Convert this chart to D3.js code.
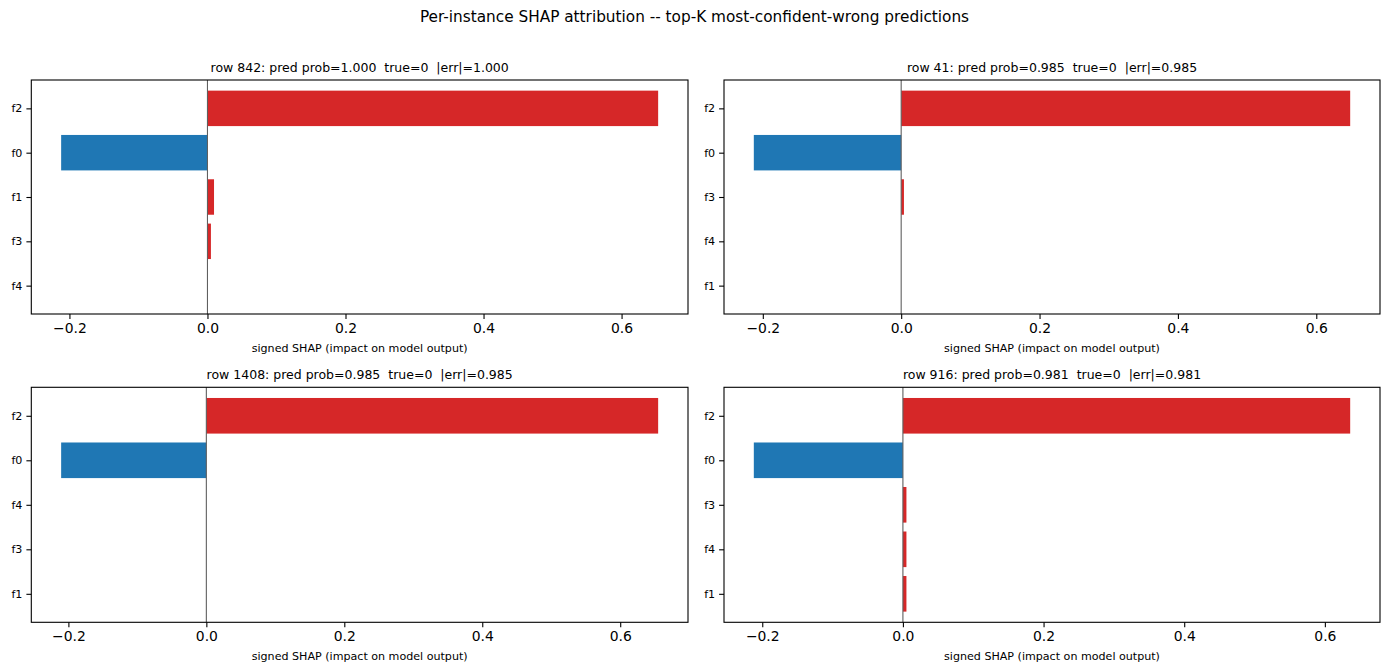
<!DOCTYPE html>
<html>
<head>
<meta charset="utf-8">
<script src="https://cdn.jsdelivr.net/npm/d3@7/dist/d3.min.js"></script>
<style>
  html, body { margin: 0; padding: 0; background: #fff; }
  svg { display: block; }
  text { font-family: "DejaVu Sans", sans-serif; white-space: pre; }
</style>
</head>
<body>
<svg id="chart" width="1389" height="671"></svg>
<script>
// ---- data ----
const suptitle = "Per-instance SHAP attribution -- top-K most-confident-wrong predictions";
const panelTitles = [
  "row 842: pred prob=1.000  true=0  |err|=1.000",
  "row 41: pred prob=0.985  true=0  |err|=0.985",
  "row 1408: pred prob=0.985  true=0  |err|=0.985",
  "row 916: pred prob=0.981  true=0  |err|=0.981"
];
// features listed top to bottom
const features842  = ["f2", "f0", "f1", "f3", "f4"];
const values842    = [0.653, -0.212, 0.0095, 0.005, 0.0];
const features41   = ["f2", "f0", "f3", "f4", "f1"];
const values41     = [0.649, -0.213, 0.004, 0.0, 0.0];
const features1408 = ["f2", "f0", "f4", "f3", "f1"];
const values1408   = [0.655, -0.2105, 0.0, 0.0, 0.0];
const features916  = ["f2", "f0", "f3", "f4", "f1"];
const values916    = [0.636, -0.212, 0.005, 0.005, 0.005];
const xTickValues  = [-0.2, 0.0, 0.2, 0.4, 0.6];
const xLabel = "signed SHAP (impact on model output)";

const panels = [
  { title: panelTitles[0], feats: features842,  vals: values842,  box: [31.3, 80, 688, 314] },
  { title: panelTitles[1], feats: features41,   vals: values41,   box: [724, 80, 1380, 314] },
  { title: panelTitles[2], feats: features1408, vals: values1408, box: [31.3, 387.3, 688, 622.3] },
  { title: panelTitles[3], feats: features916,  vals: values916,  box: [724, 387.3, 1380, 622.3] }
];

const svg = d3.select("#chart");
const RED = "#d62728", BLUE = "#1f77b4";

svg.append("text")
  .attr("x", 694.5).attr("y", 22)
  .attr("text-anchor", "middle")
  .attr("font-size", "15.3px")
  .attr("fill", "#000")
  .text(suptitle);

panels.forEach(p => {
  const [x0, y0, x1, y1] = p.box;
  const n = p.feats.length;
  const vmin = Math.min(0, d3.min(p.vals)), vmax = Math.max(0, d3.max(p.vals));
  const m = (vmax - vmin) * 0.05;
  const x = d3.scaleLinear().domain([vmin - m, vmax + m]).range([x0, x1]);
  const yPos = i => (n - 1 - i);
  const y = d3.scaleLinear().domain([-0.4 - 0.24, n - 1 + 0.4 + 0.24]).range([y1, y0]);
  const barH = 0.8;

  const g = svg.append("g");

  g.selectAll("rect.bar").data(p.vals).enter().append("rect")
    .attr("class", "bar")
    .attr("x", d => x(Math.min(0, d)))
    .attr("width", d => Math.abs(x(d) - x(0)))
    .attr("y", (d, i) => y(yPos(i) + barH / 2))
    .attr("height", (d, i) => y(yPos(i) - barH / 2) - y(yPos(i) + barH / 2))
    .attr("fill", d => d >= 0 ? RED : BLUE);

  g.append("line")
    .attr("x1", x(0)).attr("x2", x(0))
    .attr("y1", y0).attr("y2", y1)
    .attr("stroke", "#5f5f5f").attr("stroke-width", 1.1);

  const xAxis = d3.axisBottom(x).tickValues(xTickValues)
    .tickFormat(d => d3.format(".1f")(d).replace("-", "\u2212"))
    .tickSize(4.9).tickPadding(4);
  const gx = g.append("g").attr("transform", `translate(0,${y1})`).call(xAxis);
  gx.select(".domain").remove();
  gx.selectAll(".tick line").attr("stroke", "#000").attr("stroke-width", 1.1);
  gx.selectAll(".tick text").attr("font-size", "13.9px").attr("fill", "#000")
    .attr("font-family", "DejaVu Sans, sans-serif");

  const yAxis = d3.axisLeft(y).tickValues(d3.range(n))
    .tickFormat(v => p.feats[n - 1 - v])
    .tickSize(4.9).tickPadding(4);
  const gy = g.append("g").attr("transform", `translate(${x0},0)`).call(yAxis);
  gy.select(".domain").remove();
  gy.selectAll(".tick line").attr("stroke", "#000").attr("stroke-width", 1.1);
  gy.selectAll(".tick text").attr("font-size", "11.1px").attr("fill", "#000")
    .attr("font-family", "DejaVu Sans, sans-serif");

  g.append("rect")
    .attr("x", x0).attr("y", y0)
    .attr("width", x1 - x0).attr("height", y1 - y0)
    .attr("fill", "none").attr("stroke", "#000").attr("stroke-width", 1.1);

  g.append("text")
    .attr("x", (x0 + x1) / 2).attr("y", y0 - 8.3)
    .attr("text-anchor", "middle")
    .attr("font-size", "12.5px").attr("fill", "#000")
    .text(p.title);

  g.append("text")
    .attr("x", (x0 + x1) / 2).attr("y", y1 + 38)
    .attr("text-anchor", "middle")
    .attr("font-size", "11.1px").attr("fill", "#000")
    .text(xLabel);
});
</script>
</body>
</html>
